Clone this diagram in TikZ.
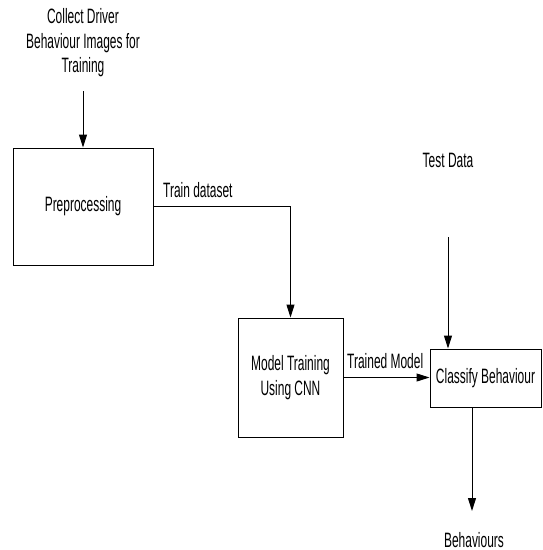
\documentclass[tikz,border=0pt]{standalone}
\usepackage{fontspec}
\setmainfont[FakeStretch=0.575]{Liberation Sans}
\usetikzlibrary{arrows.meta}
\tikzset{
  box/.style={draw, line width=1pt, inner sep=0pt, align=center},
  lbl/.style={inner sep=0pt, align=center},
  arr/.style={line width=1pt, -{Triangle[width=8pt,length=13pt]}},
  conn/.style={line width=1pt}
}
\begin{document}
\begin{tikzpicture}[x=1pt,y=-1pt]
\fontsize{20.8}{24.5}\selectfont
\useasboundingbox (0,0) rectangle (543,550);
% nodes
\node[lbl] (collect) at (83,43) {Collect Driver\\Behaviour Images for\\Training};
\coordinate (ctop) at (83,91);
\node[box, minimum width=140pt, minimum height=117pt] (pre) at (83,206.5) {Preprocessing};
\node[lbl, anchor=base west] (tds) at (163,197) {Train dataset};
\node[box, minimum width=105pt, minimum height=119pt] (model) at (290.5,377.5) {Model Training\\Using CNN};
\node[lbl, anchor=base west] (tm) at (347,368) {Trained Model};
\node[box, minimum width=111pt, minimum height=58pt] (cls) at (485.5,378) {Classify Behaviour};
\node[lbl, anchor=base] (test) at (448,167) {Test Data};
\coordinate (ttop) at (448,237);
\coordinate (bend) at (472,511);
\node[lbl, anchor=base] (beh) at (474,547) {Behaviours};
% connectors
\draw[arr] (ctop) -- (pre.north);
\draw[arr] (pre.east) -| (model.north);
\draw[arr] (model.east) -- (model.east -| cls.west);
\draw[arr] (ttop) -- (ttop |- cls.north);
\draw[arr] (bend |- cls.south) -- (bend);
\end{tikzpicture}
\end{document}
